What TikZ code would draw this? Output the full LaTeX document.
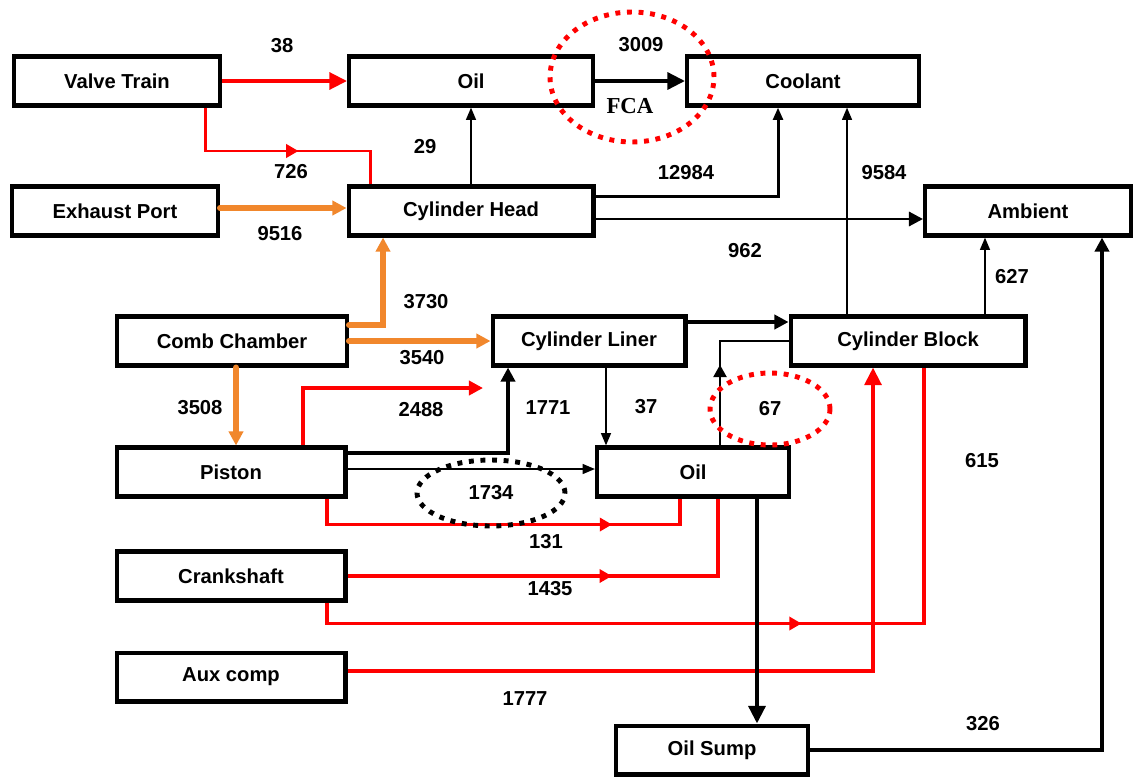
\documentclass[tikz,border=0pt]{standalone}
\usepackage{fontspec}
\setmainfont{Liberation Sans}
\newfontfamily\romain{Liberation Serif}
\usetikzlibrary{arrows.meta,shapes.geometric,decorations.markings}
\definecolor{orflux}{RGB}{241,135,44}
\newcommand{\boite}[4]{\node[boite, minimum width=#3cm] (#1) at (#2) {#4}}
\newcommand{\valeur}[3]{\node[val] (#1) at (#2) {#3}}

\begin{document}
\begin{tikzpicture}[x=0.02cm, y=-0.02cm,
	boite/.style={draw, line width=2.3pt, minimum height=0.98cm, inner sep=0pt, font=\bfseries\fontsize{11.5}{13}\selectfont},
	val/.style={inner sep=1pt, font=\bfseries\fontsize{11.5}{13}\selectfont},
	bulle/.style={ellipse, line width=2.8pt, dash pattern=on 2.8pt off 3.8pt, inner sep=0pt, font=\bfseries\fontsize{11.5}{13}\selectfont},
	rouge/.style={red, line width=2.2pt},
	chaud/.style={orflux, line width=3.4pt, line cap=round},
	fin/.style={black, line width=1.2pt},
	moyen/.style={black, line width=1.7pt},
	epais/.style={black, line width=2.3pt},
	pg/.style={-{Triangle[length=10pt,width=9.5pt]}},
	pm/.style={-{Triangle[length=8pt,width=8pt]}},
	pp/.style={-{Triangle[length=7pt,width=5.5pt]}},
	milieu/.style={postaction={decorate}, decoration={markings, mark=at position #1 with {\arrow{Triangle[length=7pt,width=7.5pt]}}}}
]
	\useasboundingbox (0,0) rectangle (1141,778);
	\boite{vt}{117,81}{4.12}{Valve Train};
	\boite{oilH}{471,81}{4.88}{Oil};
	\boite{cool}{803,81}{4.64}{Coolant};
	\boite{exh}{115,211}{4.12}{Exhaust Port};
	\boite{head}{471,211}{4.9}{Cylinder Head};
	\boite{amb}{1028,211}{4.12}{Ambient};
	\boite{comb}{232,341}{4.6}{Comb Chamber};
	\boite{liner}{589,341}{3.86}{Cylinder Liner};
	\boite{block}{908,341}{4.7}{Cylinder Block};
	\boite{piston}{231,472}{4.58}{Piston};
	\boite{oilM}{693,472}{3.84}{Oil};
	\boite{crank}{231,576}{4.58}{Crankshaft};
	\boite{aux}{231,677}{4.58}{Aux comp};
	\boite{sump}{712,750}{3.84}{Oil Sump};
	\coordinate (bk1) at ([xshift=-1.22cm]block.north);
	\coordinate (bk2) at ([xshift=1.54cm]block.north);
	\coordinate (li1) at ([xshift=0.34cm]liner.south);
	\coordinate (om1) at ([xshift=1.28cm]oilM.south);
	\coordinate (cc1) at ([xshift=0.08cm]comb.south);
	\coordinate (q2488) at (483,388);
	\draw[rouge, pg] (vt.east) -- (oilH.west);
	\draw[rouge, line width=1.7pt, milieu=0.566] ([xshift=-0.34cm]vt.south east) |- ([xshift=0.47cm,yshift=0.67cm]head.north west) -- ([xshift=0.47cm]head.north west);
	\draw[chaud, pm] ([yshift=0.06cm]exh.east) -- ([yshift=0.06cm]head.west);
	\draw[fin, pp] (head.north) -- (oilH.south);
	\draw[epais, pg] (oilH.east) -- (cool.west);
	\draw[moyen, pp] ([yshift=0.3cm]head.east) -| ([xshift=-0.5cm]cool.south);
	\draw[moyen, pm] ([yshift=-0.16cm]head.east) -- ([yshift=-0.16cm]amb.west);
	\draw[fin, pp] (bk1) -- (bk1 |- cool.south);
	\draw[fin, pp] (bk2) -- (bk2 |- amb.south);
	\draw[chaud, pm] ([yshift=0.32cm]comb.east) -| ([xshift=-1.76cm]head.south);
	\draw[chaud, pm] (comb.east) -- (liner.west);
	\draw[chaud, pm] (cc1) -- (cc1 |- piston.north);
	\draw[rouge, pm] ([xshift=1.44cm]piston.north) |- (q2488);
	\draw[epais, pm] ([yshift=0.38cm]piston.east) -| ([xshift=-1.62cm]liner.south);
	\draw[fin, pp] ([yshift=0.06cm]piston.east) -- ([yshift=0.06cm]oilM.west);
	\draw[rouge, milieu=0.768] ([xshift=1.92cm]piston.south) -- ++(0,26) -| ([xshift=-0.26cm]oilM.south);
	\draw[fin, pp] (li1) -- (li1 |- oilM.north);
	\draw[epais, pm] ([yshift=0.38cm]liner.east) -- ([yshift=0.38cm]block.west);
	\draw[fin, milieu=0.466] ([xshift=0.54cm]oilM.north) |- (block.west);
	\draw[rouge, milieu=0.59] (crank.east) -| ([xshift=0.5cm]oilM.south);
	\draw[rouge, milieu=0.567] ([xshift=1.92cm]crank.south) -- ++(0,21) -| ([xshift=0.32cm]block.south);
	\draw[rouge, pg] ([yshift=0.12cm]aux.east) -| ([xshift=-0.7cm]block.south);
	\draw[epais, pg] (om1) -- (om1 |- sump.north);
	\draw[epais, pm] (sump.east) -| ([xshift=1.48cm]amb.south);
	\valeur{v38}{282,46}{38};
	\valeur{v726}{291,172}{726};
	\valeur{v9516}{280,234}{9516};
	\valeur{v29}{425,147}{29};
	\valeur{v3009}{641,45}{3009};
	\node[font=\romain\bfseries\fontsize{13}{15}\selectfont] (fca) at (630,106) {FCA};
	\valeur{v12984}{686,173}{12984};
	\valeur{v962}{745,251}{962};
	\valeur{v9584}{884,173}{9584};
	\valeur{v627}{1012,277}{627};
	\valeur{v3730}{426,302}{3730};
	\valeur{v3540}{422,358}{3540};
	\valeur{v3508}{200,408}{3508};
	\valeur{v2488}{421,410}{2488};
	\valeur{v1771}{548,408}{1771};
	\valeur{v37}{646,407}{37};
	\valeur{v131}{546,542}{131};
	\valeur{v1435}{550,589}{1435};
	\valeur{v615}{982,461}{615};
	\valeur{v1777}{525,699}{1777};
	\valeur{v326}{983,724}{326};
	\node[bulle, draw=red, minimum width=2.4cm, minimum height=1.44cm] (v67) at (770,409) {67};
	\node[bulle, draw=black, minimum width=2.96cm, minimum height=1.32cm] (v1734) at (491,493) {1734};
	\draw[red, line width=2.8pt, dash pattern=on 2.8pt off 3.8pt] (632,77) ellipse [x radius=1.64cm, y radius=1.3cm];
\end{tikzpicture}
\end{document}
